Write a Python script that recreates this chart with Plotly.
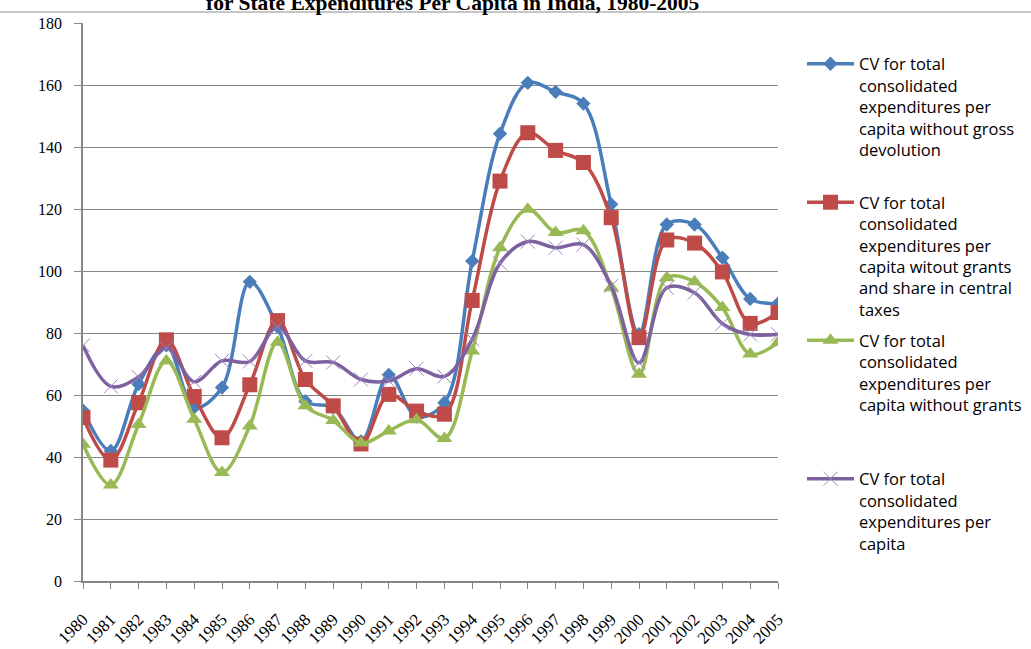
import plotly.graph_objects as go

years = [str(y) for y in range(1980, 2006)]

cv_without_gross_devolution = [55, 42, 63.5, 76, 56, 62.4, 96.5, 82, 58, 56, 45, 66.5, 53, 57.5,
                               103.2, 144.3, 160.7, 157.8, 154, 121.5, 79.6, 115, 115, 104.3, 91, 89.5]
cv_without_grants_and_share = [52.7, 39, 57.5, 77.8, 59.5, 46.2, 63.3, 84, 65, 56.5, 44.2, 60.2, 54.8, 53.8,
                               90.5, 129, 144.6, 138.9, 135, 117.2, 78.5, 110, 109, 99.7, 83.1, 86.6]
cv_without_grants = [44.1, 31, 50.5, 71, 52.2, 35, 50, 77, 56.5, 51.8, 44.5, 48.4, 52, 46,
                     74.2, 107.5, 119.9, 112.4, 113, 94.6, 66.7, 97.8, 96.5, 88.2, 73.2, 76.9]
cv_total = [76, 62.8, 65.8, 75.2, 64.3, 71, 70.8, 82, 71, 70.5, 65, 64.5, 68.5, 66,
            78, 102.5, 109.5, 107.5, 108.5, 95.2, 70.4, 94.6, 93, 83, 79.5, 79.6]

names = [
    "CV for total<br>consolidated<br>expenditures per<br>capita without gross<br>devolution",
    "CV for total<br>consolidated<br>expenditures per<br>capita witout grants<br>and share in central<br>taxes",
    "CV for total<br>consolidated<br>expenditures per<br>capita without grants",
    "CV for total<br>consolidated<br>expenditures per<br>capita",
]
y_tick_values = list(range(0, 181, 20))
title_text = "for State Expenditures Per Capita in India, 1980-2005"

PL, PR, PT, PB = 83, 253, 23, 68
W, H = 1031, 649
pw, ph = W - PL - PR, H - PT - PB


def px_to_paper_y(p):
    return (H - PB - p) / ph


def px_to_paper_x(p):
    return (p - PL) / pw


fig = go.Figure()

series = [
    (cv_without_gross_devolution, "#4A7EBB", dict(symbol="diamond", size=11, color="#4A7EBB")),
    (cv_without_grants_and_share, "#BE4B48", dict(symbol="square", size=15, color="#BE4B48")),
    (cv_without_grants, "#98B954", dict(symbol="triangle-up", size=14, color="#98B954")),
    (cv_total, "#7D60A0", dict(symbol="x-thin", size=14, color="#9B87C0",
                                line=dict(color="#9B87C0", width=1))),
]
legend_ids = ["legend", "legend2", "legend3", "legend4"]
for (vals, col, mk), nm, lg in zip(series, names, legend_ids):
    fig.add_trace(go.Scatter(
        x=years, y=vals, name=nm, mode="lines+markers",
        line=dict(color=col, width=3.5, shape="spline", smoothing=1.0),
        marker=mk, legend=lg,
    ))

legend_font = dict(family="Open Sans, Lato, sans-serif", size=16.5, color="#000000")
legend_tops = [46.5, 185, 323, 461.5]
common_legend = dict(font=legend_font, bgcolor="rgba(0,0,0,0)", borderwidth=0,
                     xanchor="left", yanchor="top", valign="top", itemwidth=47,
                     x=px_to_paper_x(802))
layout_legends = {}
for lg, top in zip(legend_ids, legend_tops):
    layout_legends[lg] = dict(common_legend, y=px_to_paper_y(top))

grid_col = "#868686"
serif = "Liberation Serif, Times New Roman, serif"
fig.update_layout(
    width=W, height=H,
    margin=dict(l=PL, r=PR, t=PT, b=PB, pad=0, autoexpand=False),
    paper_bgcolor="white", plot_bgcolor="white",
    showlegend=True,
    xaxis=dict(
        type="category", range=[0, 25], showgrid=False, automargin=False,
        showline=True, linecolor=grid_col, linewidth=1.5,
        ticks="outside", ticklen=6, tickcolor=grid_col, tickwidth=1,
        tickangle=-45, ticklabelstandoff=14,
        tickfont=dict(family=serif, size=17, color="#000000"),
        zeroline=False,
    ),
    yaxis=dict(
        range=[0, 180], tickvals=y_tick_values, automargin=False,
        showgrid=True, gridcolor=grid_col, gridwidth=1,
        showline=True, linecolor=grid_col, linewidth=1.5,
        ticks="outside", ticklen=7, tickcolor=grid_col, tickwidth=1,
        tickfont=dict(family=serif, size=16, color="#000000"),
        zeroline=False, ticklabelstandoff=9,
    ),
    shapes=[dict(type="line", xref="paper", yref="paper",
                 x0=px_to_paper_x(0), x1=px_to_paper_x(W),
                 y0=px_to_paper_y(12), y1=px_to_paper_y(12),
                 line=dict(color="#8c8c8c", width=1))],
    annotations=[dict(text="<b>" + title_text + "</b>", xref="paper", yref="paper",
                      x=px_to_paper_x(204), y=px_to_paper_y(17), xanchor="left", yanchor="bottom",
                      showarrow=False,
                      font=dict(family=serif, size=21.5, color="#000000"))],
    **layout_legends,
)

fig.write_html("out.html", config={"displayModeBar": False},
               post_script="document.body.style.margin='0';")
